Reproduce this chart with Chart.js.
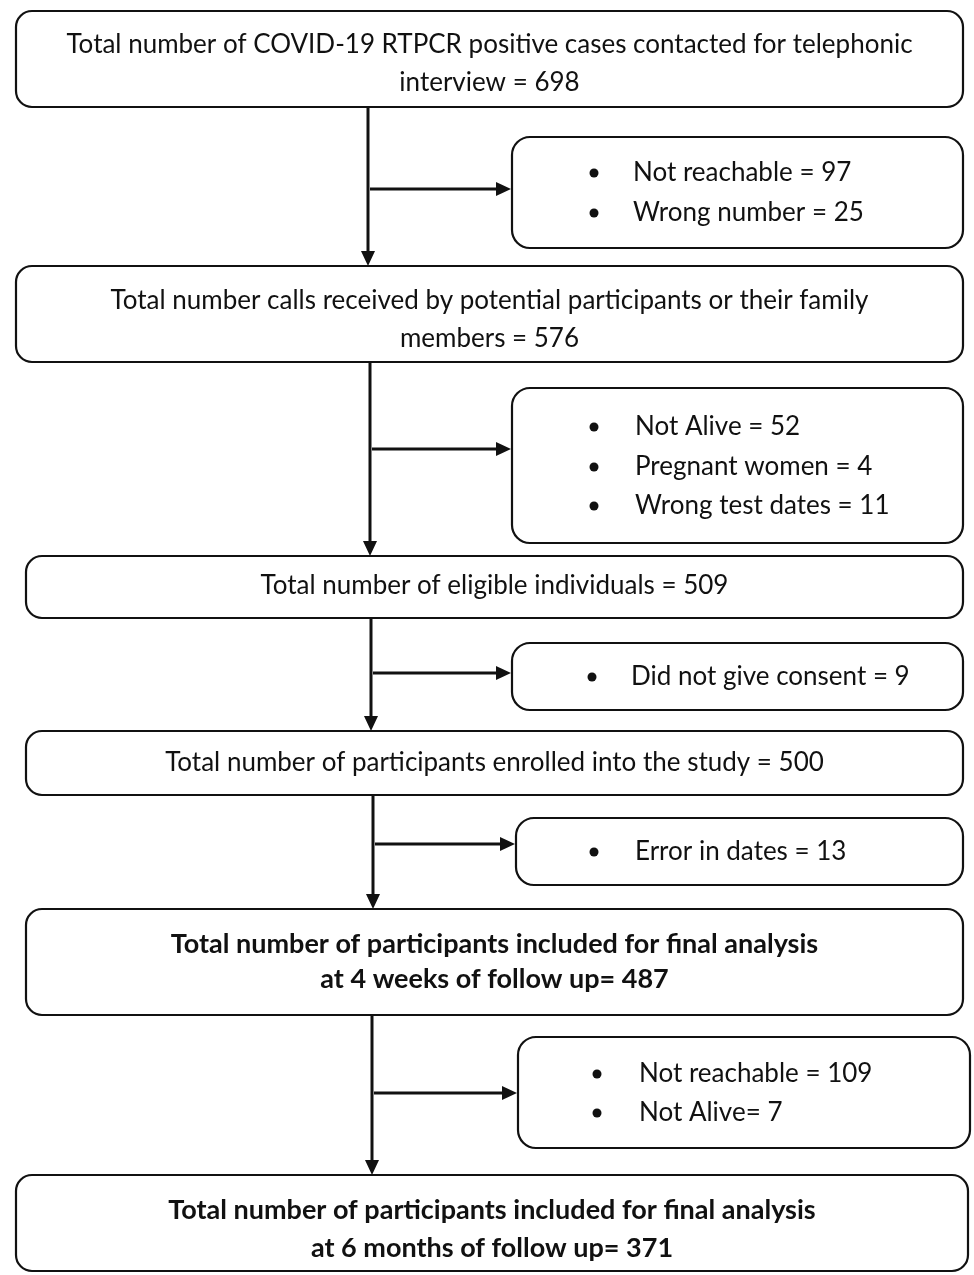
<!DOCTYPE html>
<html>
<head>
<meta charset="utf-8">
<title>Study flow chart</title>
<script src="https://cdn.jsdelivr.net/npm/chart.js@4.4.1/dist/chart.umd.min.js"></script>
<style>
  html, body { margin: 0; padding: 0; background: #fff; }
  #wrap { width: 974px; height: 1275px; }
</style>
</head>
<body>
<div id="wrap"><canvas id="flowChart"></canvas></div>
<script>
// Stage boxes (main column) and counts
const stageLabels = [
  ["Total number of COVID-19 RTPCR positive cases contacted for telephonic", "interview = "],
  ["Total number calls received by potential participants or their family", "members = "],
  ["Total number of eligible individuals = "],
  ["Total number of participants enrolled into the study = "],
  ["Total number of participants included for final analysis", "at 4 weeks of follow up= "],
  ["Total number of participants included for final analysis", "at 6 months of follow up= "],
];
const stageCounts = [698, 576, 509, 500, 487, 371];

// Exclusions between stages
const exclusionReasons = [
  ["Not reachable = ", "Wrong number = "],
  ["Not Alive = ", "Pregnant women = ", "Wrong test dates = "],
  ["Did not give consent = "],
  ["Error in dates = "],
  ["Not reachable = ", "Not Alive= "],
];
const exclusionCounts = [
  [97, 25],
  [52, 4, 11],
  [9],
  [13],
  [109, 7],
];

// Layout (page units, y grows downward)
const stageLayout = [
  { x0: 16, x1: 963, y0: 11, y1: 107, lines: [45, 83], bold: false },
  { x0: 16, x1: 963, y0: 266, y1: 362, lines: [301, 339], bold: false },
  { x0: 26, x1: 963, y0: 556, y1: 618, lines: [586], bold: false },
  { x0: 26, x1: 963, y0: 731, y1: 795, lines: [763], bold: false },
  { x0: 26, x1: 963, y0: 909, y1: 1015, lines: [944, 979], bold: true },
  { x0: 16, x1: 968, y0: 1175, y1: 1271, lines: [1210, 1248], bold: true },
];
const exclusionLayout = [
  { x0: 512, x1: 963, y0: 137, y1: 248, bullet: 594, text: 633, lines: [173, 213], arrowX: 368, arrowY: 189 },
  { x0: 512, x1: 963, y0: 388, y1: 543, bullet: 594, text: 635, lines: [427, 467, 506], arrowX: 370, arrowY: 449 },
  { x0: 512, x1: 963, y0: 643, y1: 710, bullet: 592, text: 631, lines: [677], arrowX: 371, arrowY: 673 },
  { x0: 516, x1: 963, y0: 818, y1: 885, bullet: 594, text: 635, lines: [852], arrowX: 373, arrowY: 844 },
  { x0: 518, x1: 970, y0: 1037, y1: 1148, bullet: 597, text: 639, lines: [1074, 1113], arrowX: 372, arrowY: 1093 },
];

const FONT = "Lato, 'Open Sans', sans-serif";
const INK = "#111";

function roundBox(ctx, x0, y0, x1, y1, r) {
  ctx.beginPath();
  ctx.moveTo(x0 + r, y0);
  ctx.lineTo(x1 - r, y0);
  ctx.arcTo(x1, y0, x1, y0 + r, r);
  ctx.lineTo(x1, y1 - r);
  ctx.arcTo(x1, y1, x1 - r, y1, r);
  ctx.lineTo(x0 + r, y1);
  ctx.arcTo(x0, y1, x0, y1 - r, r);
  ctx.lineTo(x0, y0 + r);
  ctx.arcTo(x0, y0, x0 + r, y0, r);
  ctx.closePath();
  ctx.fillStyle = "#fff";
  ctx.fill();
  ctx.stroke();
}

function arrow(ctx, xa, ya, xb, yb) {
  var ang = Math.atan2(yb - ya, xb - xa);
  var len = 15, half = 7;
  ctx.beginPath();
  ctx.moveTo(xa, ya);
  ctx.lineTo(xb - len * Math.cos(ang), yb - len * Math.sin(ang));
  ctx.stroke();
  ctx.beginPath();
  ctx.moveTo(xb, yb);
  ctx.lineTo(xb - len * Math.cos(ang) + half * Math.sin(ang), yb - len * Math.sin(ang) - half * Math.cos(ang));
  ctx.lineTo(xb - len * Math.cos(ang) - half * Math.sin(ang), yb - len * Math.sin(ang) + half * Math.cos(ang));
  ctx.closePath();
  ctx.fill();
}

// Draws the whole flow diagram through the chart's x / y scales
const flowPlugin = {
  id: "flowDiagram",
  afterDatasetsDraw(chart) {
    const ctx = chart.ctx;
    const sx = chart.scales.x, sy = chart.scales.y;
    const px = (v) => sx.getPixelForValue(v);
    const py = (v) => sy.getPixelForValue(v);

    ctx.save();
    ctx.strokeStyle = INK;
    ctx.fillStyle = INK;
    ctx.lineWidth = 3;

    // vertical arrows between stage boxes, side arrows to exclusions
    for (let i = 0; i < stageLayout.length - 1; i++) {
      const ex = exclusionLayout[i];
      arrow(ctx, px(ex.arrowX), py(stageLayout[i].y1), px(ex.arrowX), py(stageLayout[i + 1].y0));
      arrow(ctx, px(ex.arrowX + 2), py(ex.arrowY), px(ex.x0 - 1), py(ex.arrowY));
    }

    ctx.lineWidth = 2.2;
    // stage boxes
    stageLayout.forEach((b, i) => {
      ctx.strokeStyle = INK;
      roundBox(ctx, px(b.x0), py(b.y0), px(b.x1), py(b.y1), 16);
      ctx.fillStyle = INK;
      ctx.font = b.bold ? "bold 27px " + FONT : "26px " + FONT;
      ctx.textAlign = "center";
      ctx.textBaseline = "middle";
      const lines = stageLabels[i];
      lines.forEach((t, k) => {
        const txt = k === lines.length - 1 ? t + stageCounts[i] : t;
        ctx.fillText(txt, px((b.x0 + b.x1) / 2), py(b.lines[k]));
      });
    });

    // exclusion boxes
    exclusionLayout.forEach((b, i) => {
      ctx.strokeStyle = INK;
      roundBox(ctx, px(b.x0), py(b.y0), px(b.x1), py(b.y1), 18);
      ctx.fillStyle = INK;
      ctx.font = "26px " + FONT;
      ctx.textAlign = "left";
      ctx.textBaseline = "middle";
      exclusionReasons[i].forEach((t, k) => {
        ctx.beginPath();
        ctx.arc(px(b.bullet), py(b.lines[k]), 4.5, 0, Math.PI * 2);
        ctx.fill();
        ctx.fillText(t + exclusionCounts[i][k], px(b.text), py(b.lines[k]));
      });
    });
    ctx.restore();
  },
};

new Chart(document.getElementById("flowChart"), {
  type: "scatter",
  data: { datasets: [{ data: [], pointRadius: 0 }] },
  options: {
    responsive: true,
    maintainAspectRatio: false,
    animation: false,
    layout: { padding: 0 },
    plugins: { legend: { display: false }, tooltip: { enabled: false } },
    scales: {
      x: { type: "linear", min: 0, max: 974, display: false },
      y: { type: "linear", min: 0, max: 1275, reverse: true, display: false },
    },
  },
  plugins: [flowPlugin],
});
</script>
</body>
</html>
